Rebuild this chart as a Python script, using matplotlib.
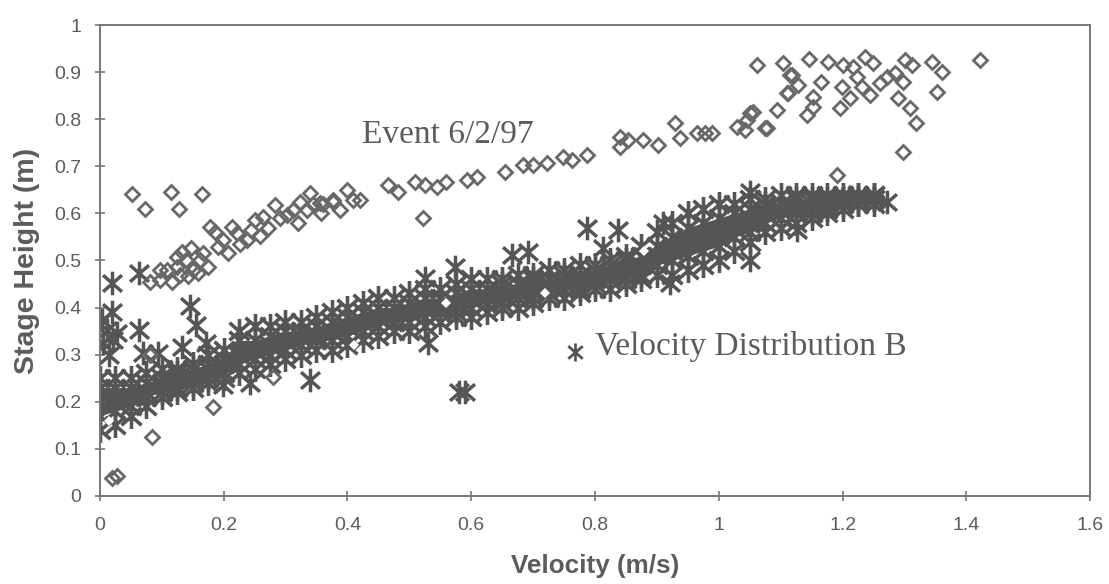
import numpy as np
import matplotlib
matplotlib.use("Agg")
import matplotlib.pyplot as plt
from matplotlib.path import Path

# ---------------------------------------------------------------
# Data
# ---------------------------------------------------------------
# Event 6/2/97 (open diamonds)
ev_x = [0.052, 0.073, 0.115, 0.128, 0.165,
        0.081, 0.097, 0.116, 0.108, 0.124, 0.132, 0.140, 0.148, 0.151, 0.162,
        0.167, 0.175, 0.178, 0.186, 0.191, 0.199, 0.207, 0.213, 0.221, 0.226,
        0.237, 0.245, 0.251, 0.259, 0.264, 0.272, 0.283, 0.291, 0.302, 0.312,
        0.320, 0.323, 0.334, 0.339, 0.345, 0.358, 0.361, 0.377, 0.388, 0.399,
        0.409, 0.097, 0.129, 0.143, 0.159, 0.124,
        0.356, 0.377, 0.420, 0.466, 0.482, 0.509, 0.525, 0.544, 0.560, 0.522,
        0.593, 0.609, 0.655, 0.684, 0.700, 0.722, 0.748, 0.763, 0.787, 0.840,
        0.853, 0.840, 0.878, 0.902, 0.929, 0.937, 0.965, 0.978, 0.989,
        1.062, 1.104, 1.115, 1.110, 1.094, 1.055, 1.046, 1.029, 1.078, 1.042,
        1.118, 1.128, 1.112, 1.146, 1.165, 1.152, 1.143, 1.152, 1.177, 1.201,
        1.199, 1.196, 1.212, 1.223, 1.217, 1.236, 1.231, 1.244, 1.249, 1.261,
        1.272, 1.285, 1.301, 1.312, 1.298, 1.290, 1.309, 1.319, 1.298, 1.345,
        1.361, 1.353, 1.422, 1.191, 1.075, 1.050,
        0.084, 0.183, 0.019, 0.027, 0.280, 0.081]
ev_y = [0.641, 0.609, 0.645, 0.609, 0.641,
        0.455, 0.459, 0.455, 0.480, 0.487, 0.519, 0.501, 0.526, 0.480, 0.501,
        0.515, 0.487, 0.572, 0.561, 0.529, 0.544, 0.515, 0.572, 0.558, 0.536,
        0.544, 0.565, 0.586, 0.551, 0.593, 0.568, 0.618, 0.590, 0.597, 0.607,
        0.579, 0.625, 0.607, 0.643, 0.621, 0.600, 0.621, 0.625, 0.607, 0.650,
        0.628, 0.480, 0.469, 0.466, 0.473, 0.508,
        0.622, 0.628, 0.628, 0.660, 0.646, 0.667, 0.660, 0.656, 0.667, 0.590,
        0.671, 0.677, 0.688, 0.703, 0.703, 0.707, 0.720, 0.713, 0.724, 0.741,
        0.756, 0.762, 0.756, 0.745, 0.792, 0.760, 0.771, 0.771, 0.771,
        0.915, 0.919, 0.894, 0.856, 0.820, 0.815, 0.798, 0.783, 0.781, 0.777,
        0.894, 0.873, 0.856, 0.928, 0.879, 0.847, 0.809, 0.826, 0.921, 0.915,
        0.868, 0.824, 0.845, 0.890, 0.911, 0.932, 0.868, 0.851, 0.919, 0.877,
        0.890, 0.898, 0.926, 0.915, 0.879, 0.845, 0.824, 0.792, 0.730, 0.921,
        0.900, 0.858, 0.926, 0.682, 0.781, 0.813,
        0.125, 0.189, 0.038, 0.042, 0.253, 0.300]
# diamonds sitting inside the star band (only their white centres show)
ev_band_x = [0.410, 0.720, 0.880, 0.560, 0.015]
ev_band_y = [0.320, 0.430, 0.520, 0.410, 0.160]

# Velocity Distribution B (asterisks): dense band, rows across the band
vb_x = [0.000, 0.025, 0.050, 0.075, 0.100, 0.125, 0.150, 0.175, 0.200, 0.225,
        0.250, 0.275, 0.300, 0.325, 0.350, 0.375, 0.400, 0.425, 0.450, 0.475,
        0.500, 0.525, 0.550, 0.575, 0.600, 0.625, 0.650, 0.675, 0.700, 0.725,
        0.750, 0.775, 0.800, 0.825, 0.850, 0.875, 0.900, 0.925, 0.950, 0.975,
        1.000, 1.025, 1.050, 1.075, 1.100, 1.125, 1.150, 1.175, 1.200, 1.225,
        1.250]
vb_lo = [0.14, 0.15, 0.17, 0.19, 0.21, 0.22, 0.23, 0.24, 0.25, 0.26,
         0.27, 0.28, 0.29, 0.30, 0.31, 0.31, 0.32, 0.33, 0.34, 0.35,
         0.35, 0.36, 0.37, 0.38, 0.38, 0.39, 0.40, 0.40, 0.41, 0.42,
         0.42, 0.43, 0.44, 0.44, 0.45, 0.46, 0.47, 0.47, 0.48, 0.49,
         0.50, 0.52, 0.54, 0.56, 0.57, 0.58, 0.59, 0.60, 0.61, 0.62,
         0.62]
vb_q1 = [0.17, 0.18, 0.19, 0.21, 0.22, 0.23, 0.24, 0.25, 0.26, 0.28,
         0.29, 0.30, 0.31, 0.32, 0.33, 0.33, 0.34, 0.35, 0.36, 0.37,
         0.37, 0.38, 0.39, 0.39, 0.40, 0.41, 0.41, 0.42, 0.42, 0.43,
         0.44, 0.44, 0.45, 0.46, 0.46, 0.47, 0.49, 0.50, 0.51, 0.52,
         0.53, 0.55, 0.56, 0.58, 0.59, 0.60, 0.60, 0.61, 0.62, 0.62,
         0.63]
vb_mid = [0.20, 0.20, 0.21, 0.22, 0.24, 0.25, 0.25, 0.27, 0.28, 0.30,
          0.31, 0.32, 0.33, 0.34, 0.34, 0.35, 0.36, 0.37, 0.38, 0.38,
          0.39, 0.40, 0.40, 0.41, 0.42, 0.42, 0.43, 0.43, 0.44, 0.45,
          0.45, 0.46, 0.46, 0.47, 0.48, 0.49, 0.51, 0.52, 0.54, 0.55,
          0.56, 0.57, 0.58, 0.60, 0.61, 0.61, 0.62, 0.62, 0.63, 0.63,
          0.63]
vb_q3 = [0.23, 0.23, 0.23, 0.24, 0.25, 0.26, 0.27, 0.28, 0.29, 0.33,
         0.33, 0.34, 0.35, 0.35, 0.36, 0.37, 0.38, 0.39, 0.40, 0.40,
         0.41, 0.42, 0.42, 0.43, 0.44, 0.44, 0.45, 0.45, 0.46, 0.46,
         0.47, 0.47, 0.48, 0.49, 0.50, 0.51, 0.53, 0.55, 0.57, 0.58,
         0.59, 0.60, 0.61, 0.62, 0.62, 0.63, 0.63, 0.63, 0.63, 0.64,
         0.64]
vb_hi = [0.25, 0.25, 0.25, 0.26, 0.27, 0.27, 0.28, 0.30, 0.31, 0.35,
         0.36, 0.36, 0.37, 0.37, 0.38, 0.39, 0.40, 0.41, 0.42, 0.42,
         0.43, 0.44, 0.44, 0.45, 0.46, 0.46, 0.46, 0.47, 0.47, 0.48,
         0.48, 0.49, 0.49, 0.50, 0.51, 0.53, 0.56, 0.58, 0.60, 0.61,
         0.62, 0.62, 0.63, 0.63, 0.64, 0.64, 0.64, 0.64, 0.64, 0.64,
         0.64]
# scattered asterisks away from the band
vb_out_x = [0.020, 0.064, 0.020, 0.064, 0.145, 0.156, 0.070, 0.094, 0.132,
            0.172, 0.340, 0.242, 0.199, 0.011, 0.021, 0.005, 0.027, 0.003,
            0.787, 0.837, 0.666, 0.692, 0.574, 0.525, 0.530, 0.590, 0.580,
            0.813, 0.910, 1.050, 1.126, 1.050, 0.921, 1.271, 1.212, 0.015]
vb_out_y = [0.453, 0.473, 0.391, 0.352, 0.403, 0.363, 0.304, 0.304, 0.317,
            0.324, 0.246, 0.240, 0.236, 0.352, 0.331, 0.325, 0.346, 0.373,
            0.569, 0.565, 0.512, 0.518, 0.486, 0.463, 0.325, 0.221, 0.221,
            0.526, 0.579, 0.646, 0.565, 0.501, 0.452, 0.625, 0.635, 0.300]

XTICKS = [0, 0.2, 0.4, 0.6, 0.8, 1, 1.2, 1.4, 1.6]
YTICKS = [0, 0.1, 0.2, 0.3, 0.4, 0.5, 0.6, 0.7, 0.8, 0.9, 1]

# asterisk like the old spreadsheet marker: vertical bar plus an X
ast = Path([(0, -1), (0, 1), (-0.8, -0.7), (0.8, 0.7), (-0.8, 0.7), (0.8, -0.7)],
           [Path.MOVETO, Path.LINETO, Path.MOVETO, Path.LINETO,
            Path.MOVETO, Path.LINETO])

GREY = "#555555"
TXT = "#5c5c5c"

fig = plt.figure(figsize=(11.09, 5.84), dpi=100)
ax = fig.add_axes([0.090, 0.151, 0.893, 0.806])

# the asterisks overlap so much that the core of the band is solid
ax.fill_between(vb_x, vb_q1, vb_q3, color=GREY, lw=0, zorder=1.5)
bx = np.tile(vb_x, 5)
by = np.concatenate([vb_lo, vb_q1, vb_mid, vb_q3, vb_hi])
ax.plot(bx, by, ls="none", marker=ast, ms=18, mew=2.6, color=GREY, zorder=2)
ax.plot(vb_out_x, vb_out_y, ls="none", marker=ast, ms=17, mew=2.5,
        color=GREY, zorder=2)
ax.plot(ev_x, ev_y, ls="none", marker="D", ms=7.5, mew=2.0, mfc="none",
        mec="#686868", zorder=3)
ax.plot(ev_band_x, ev_band_y, ls="none", marker="D", ms=5, mew=0,
        mfc="white", zorder=3)

# in-plot labels
ax.text(0.423, 0.768, "Event 6/2/97", family="Liberation Serif", fontsize=24,
        color=TXT, va="center", ha="left")
ax.plot([0.768], [0.305], ls="none", marker=ast, ms=13, mew=2.0, color=GREY)
ax.text(0.800, 0.318, "Velocity Distribution B", family="Liberation Serif",
        fontsize=24, color=TXT, va="center", ha="left")

ax.set_xlim(0, 1.6)
ax.set_ylim(0, 1)
ax.set_xticks(XTICKS)
ax.set_xticklabels([f"{t:g}" for t in XTICKS])
ax.set_yticks(YTICKS)
ax.set_yticklabels([f"{t:g}" for t in YTICKS])
ax.tick_params(direction="inout", length=7, width=1.2, colors="#777777",
               labelcolor=TXT, labelsize=14)
ax.tick_params(axis="x", pad=12)
ax.tick_params(axis="y", pad=10)
for s in ax.spines.values():
    s.set_color("#777777")
    s.set_linewidth(1.4)

lab = dict(family="Liberation Sans", fontweight="bold", color=TXT)
ax.set_xlabel("Velocity (m/s)", fontsize=18.8, labelpad=14, **lab)
ax.set_ylabel("Stage Height (m)", fontsize=20.5, labelpad=10, **lab)
for t in ax.get_xticklabels() + ax.get_yticklabels():
    t.set_family("Liberation Sans")

fig.savefig("out.png", dpi=100)
